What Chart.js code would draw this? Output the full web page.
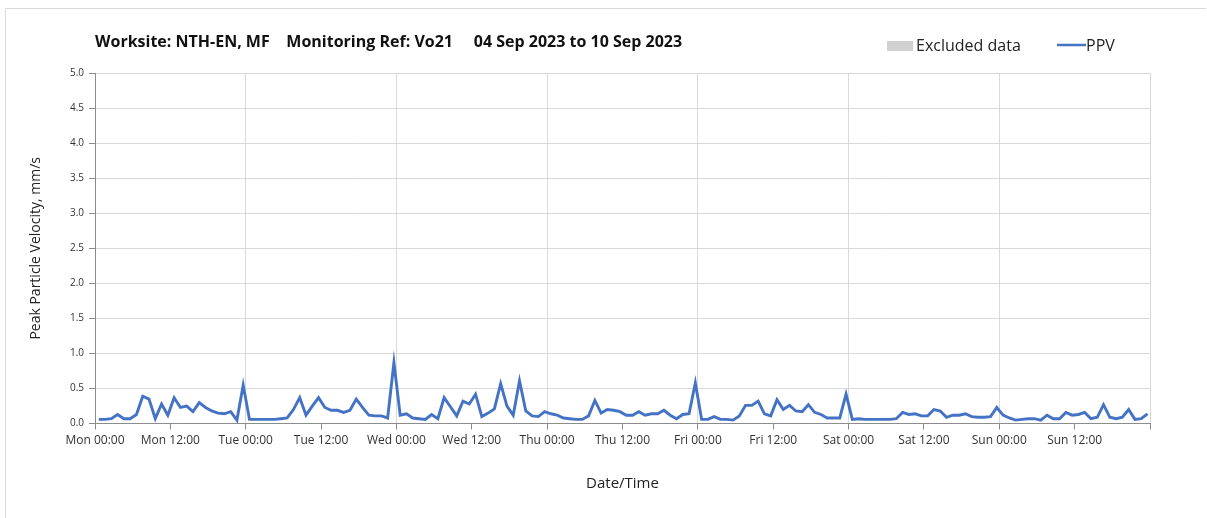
<!DOCTYPE html>
<html>
<head>
<meta charset="utf-8">
<script src="https://cdn.jsdelivr.net/npm/chart.js@4.4.1/dist/chart.umd.min.js"></script>
<style>
  html, body { margin: 0; padding: 0; background: #fff; }
  #wrap { width: 1207px; height: 518px; position: relative; }
</style>
</head>
<body>
<div id="wrap"><canvas id="ppvChart"></canvas></div>
<script>
// Hourly PPV readings, Mon 00:00 -> Sun 23:00 (mm/s)
const ppv = [
  0.06, 0.06, 0.07, 0.13, 0.07, 0.07, 0.13, 0.39, 0.35, 0.07, 0.28, 0.12,
  0.37, 0.23, 0.25, 0.17, 0.30, 0.23, 0.18, 0.15, 0.14, 0.17, 0.05, 0.55,
  0.06, 0.06, 0.06, 0.06, 0.06, 0.07, 0.08, 0.20, 0.37, 0.12, 0.25, 0.37,
  0.23, 0.19, 0.19, 0.16, 0.19, 0.35, 0.23, 0.12, 0.11, 0.11, 0.08, 0.87,
  0.12, 0.14, 0.08, 0.07, 0.06, 0.13, 0.07, 0.37, 0.24, 0.11, 0.32, 0.28,
  0.42, 0.10, 0.15, 0.21, 0.57, 0.25, 0.12, 0.61, 0.18, 0.11, 0.10, 0.17,
  0.14, 0.12, 0.08, 0.07, 0.06, 0.06, 0.11, 0.33, 0.15, 0.20, 0.19, 0.17,
  0.12, 0.12, 0.17, 0.12, 0.14, 0.14, 0.19, 0.12, 0.07, 0.13, 0.14, 0.58,
  0.06, 0.06, 0.10, 0.06, 0.06, 0.05, 0.11, 0.26, 0.26, 0.32, 0.14, 0.11,
  0.34, 0.20, 0.26, 0.18, 0.17, 0.27, 0.16, 0.13, 0.08, 0.08, 0.08, 0.42,
  0.06, 0.07, 0.06, 0.06, 0.06, 0.06, 0.06, 0.07, 0.16, 0.13, 0.14, 0.11,
  0.11, 0.20, 0.18, 0.09, 0.12, 0.12, 0.14, 0.10, 0.09, 0.09, 0.10, 0.23,
  0.12, 0.08, 0.05, 0.06, 0.07, 0.07, 0.05, 0.12, 0.07, 0.07, 0.16, 0.12,
  0.13, 0.16, 0.07, 0.09, 0.27, 0.09, 0.07, 0.09, 0.20, 0.06, 0.07, 0.14
];
// readings are logged a little after each hour
const sampleOffset = 0.6;
const hours = ppv.map((v, i) => i + sampleOffset);

const dayNames = ['Mon', 'Tue', 'Wed', 'Thu', 'Fri', 'Sat', 'Sun'];
const yTicks = [0, 0.5, 1, 1.5, 2, 2.5, 3, 3.5, 4, 4.5, 5];

const titleText = 'Worksite: NTH-EN, MF    Monitoring Ref: Vo21     04 Sep 2023 to 10 Sep 2023';
const fontFam = "'Open Sans', 'DejaVu Sans', sans-serif";

const points = ppv.map((v, i) => ({ x: hours[i], y: v }));

// title, legend and frame drawn by hand so they can share one row
const decorations = {
  id: 'decorations',
  afterDraw(chart) {
    const c = chart.ctx;
    c.save();
    c.strokeStyle = '#d9d9d9';
    c.lineWidth = 1;
    c.beginPath();
    c.moveTo(5.5, 518);
    c.lineTo(5.5, 8.5);
    c.lineTo(1206, 8.5);
    c.stroke();

    c.fillStyle = '#111';
    c.font = "bold 16px " + fontFam;
    c.textBaseline = 'middle';
    c.textAlign = 'left';
    c.fillText(titleText, 95, 42);

    // legend
    c.fillStyle = '#d0d0d0';
    c.fillRect(887, 41, 26, 10);
    c.fillStyle = '#222';
    c.font = "16px " + fontFam;
    c.fillText('Excluded data', 916, 46);
    c.strokeStyle = '#4472c4';
    c.lineWidth = 2.5;
    c.beginPath();
    c.moveTo(1057, 45);
    c.lineTo(1086, 45);
    c.stroke();
    c.fillText('PPV', 1086, 46);
    c.restore();
  }
};

const ctx = document.getElementById('ppvChart').getContext('2d');
const ppvChart = new Chart(ctx, {
  type: 'line',
  data: {
    datasets: [{
      label: 'PPV',
      data: points,
      borderColor: '#4472c4',
      borderWidth: 2.9,
      pointRadius: 0,
      tension: 0,
      fill: false
    }]
  },
  options: {
    responsive: true,
    maintainAspectRatio: false,
    animation: false,
    layout: { padding: { left: 5, right: 57, top: 73, bottom: 25 } },
    plugins: {
      legend: { display: false },
      title: { display: false },
      tooltip: { enabled: false }
    },
    scales: {
      x: {
        type: 'linear',
        min: 0,
        max: 168,
        afterBuildTicks: (s) => {
          s.ticks = [];
          for (let h = 0; h <= 168; h += 12) s.ticks.push({ value: h });
        },
        ticks: {
          maxRotation: 0,
          autoSkip: false,
          padding: 4,
          color: '#333',
          font: { family: fontFam, size: 12 },
          callback: (v) => {
            if (v >= 168) return '';
            const d = dayNames[Math.floor(v / 24)];
            return d + (v % 24 === 0 ? ' 00:00' : ' 12:00');
          }
        },
        grid: {
          color: (c) => (c.tick && c.tick.value % 24 === 0) ? '#d9d9d9' : 'rgba(0,0,0,0)',
          tickColor: '#8c8c8c',
          tickLength: 6
        },
        border: { color: '#8c8c8c' },
        title: {
          display: true,
          text: 'Date/Time',
          color: '#222',
          font: { family: fontFam, size: 15 },
          padding: { top: 23, bottom: 0 }
        }
      },
      y: {
        min: 0,
        max: 5,
        afterBuildTicks: (s) => { s.ticks = yTicks.map(v => ({ value: v })); },
        afterFit: (s) => { s.width = 90; },
        ticks: {
          color: '#333',
          padding: 5,
          font: { family: fontFam, size: 10 },
          callback: (v) => Number(v).toFixed(1)
        },
        grid: {
          color: '#d9d9d9',
          tickColor: '#8c8c8c',
          tickLength: 6
        },
        border: { color: '#8c8c8c' },
        title: {
          display: true,
          text: 'Peak Particle Velocity, mm/s',
          color: '#222',
          font: { family: fontFam, size: 14 },
          padding: { top: 23, bottom: 0 }
        }
      }
    }
  },
  plugins: [decorations]
});
</script>
</body>
</html>
